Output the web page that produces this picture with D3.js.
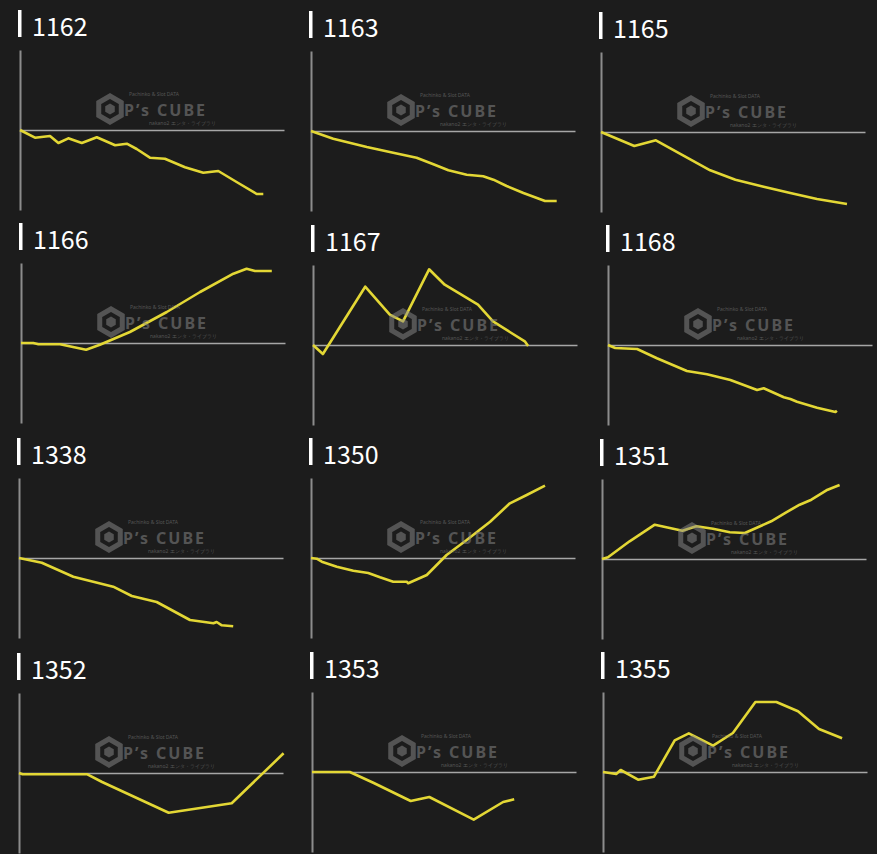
<!DOCTYPE html>
<html>
<head>
<meta charset="utf-8">
<script src="https://cdn.jsdelivr.net/npm/d3@7"></script>
<style>
  body { margin: 0; background: #1c1c1c; }
  svg { display: block; }
  .title { fill: #ffffff; font-family: "Noto Sans CJK JP", "Noto Sans", sans-serif; font-size: 25px; }
  .axis path { stroke: #8c8c8c; stroke-width: 2; }
  .zero path { stroke: #a6a6a6; stroke-width: 1.6; }
  .mark text { font-family: "Noto Sans", sans-serif; }
</style>
</head>
<body>
<script>
// machine numbers, one small chart each
var machines = ["1162", "1163", "1165", "1166", "1167", "1168", "1338", "1350", "1351", "1352", "1353", "1355"];

// games played (x) and coin difference (y) per machine
var games1162 = [0, 500, 1000, 1280, 1610, 2060, 2560, 3170, 3560, 3890, 4330, 4830, 5500, 6110, 6610, 7220, 7890, 8110];
var coins1162 = [0, -385, -300, -650, -415, -650, -365, -765, -685, -950, -1385, -1435, -1865, -2135, -2050, -2600, -3200, -3200];

var games1163 = [0, 740, 1860, 2740, 3520, 4080, 4580, 5190, 5740, 6080, 6520, 7080, 7800, 8190];
var coins1163 = [0, -385, -800, -1085, -1335, -1665, -1965, -2185, -2265, -2435, -2750, -3100, -3500, -3500];

var games1165 = [0, 1110, 1830, 2870, 3640, 4480, 5420, 6310, 7200, 8200];
var coins1165 = [0, -700, -415, -1285, -1915, -2385, -2735, -3050, -3350, -3600];

var games1166 = [0, 410, 580, 1300, 2170, 2630, 3630, 4860, 5970, 7080, 7520, 7800, 8360];
var coins1166 = [0, 0, -65, -65, -335, -85, 550, 1550, 2550, 3465, 3715, 3600, 3600];

var games1167 = [0, 330, 1740, 2560, 3000, 3870, 4390, 4890, 5500, 6000, 6560, 7060, 7170];
var coins1167 = [0, -450, 2915, 1515, 1185, 3785, 3015, 2565, 2015, 1185, 650, 185, -50];

var games1168 = [0, 240, 970, 1630, 2630, 3300, 4080, 4970, 5190, 5860, 6080, 6300, 6970, 7580, 7630];
var coins1168 = [0, -150, -200, -665, -1300, -1465, -1750, -2250, -2165, -2615, -2700, -2835, -3135, -3350, -3285];

var games1338 = [0, 760, 1810, 3140, 3760, 4590, 5700, 6480, 6590, 6760, 7140];
var coins1338 = [0, -235, -935, -1435, -1900, -2200, -3100, -3265, -3200, -3365, -3415];

var games1350 = [0, 190, 360, 860, 1410, 1910, 2300, 2740, 3190, 3240, 3860, 4520, 5190, 5970, 6630, 7190, 7800];
var coins1350 = [0, -35, -185, -435, -635, -750, -965, -1185, -1185, -1265, -850, 150, 900, 1815, 2735, 3150, 3615];

var games1351 = [0, 200, 920, 1760, 2260, 2680, 3140, 3700, 4260, 4760, 5140, 5640, 6140, 6590, 6980, 7480, 7920];
var coins1351 = [0, 85, 885, 1715, 1550, 1415, 1635, 1515, 1335, 1300, 1550, 1885, 2335, 2715, 2965, 3435, 3700];

var games1352 = [0, 120, 2280, 2770, 4990, 7090, 8820];
var coins1352 = [0, -65, -65, -450, -1985, -1515, 985];

var games1353 = [0, 1260, 2060, 3290, 3910, 5390, 6370, 6740];
var coins1353 = [0, 0, -550, -1450, -1250, -2385, -1500, -1365];

var games1355 = [0, 440, 590, 1170, 1700, 2390, 2860, 3670, 4330, 5080, 5780, 6500, 7200, 7970];
var coins1355 = [0, -100, 100, -385, -235, 1585, 1935, 1315, 1950, 3500, 3500, 3035, 2150, 1685];

var gamesList = [games1162, games1163, games1165, games1166, games1167, games1168, games1338, games1350, games1351, games1352, games1353, games1355];
var coinsList = [coins1162, coins1163, coins1165, coins1166, coins1167, coins1168, coins1338, coins1350, coins1351, coins1352, coins1353, coins1355];

window.onload = function(){
    var w = 877, h = 854;

    // where each panel's axis sits (axis x, zero line y), the grid is a bit uneven in the source
    var panelPos = [
        [20, 130], [311, 131], [601, 132],
        [21, 343], [313, 345], [608, 345],
        [19, 558], [311, 558], [602, 559],
        [19, 773], [312, 772], [603, 772]
    ];

    var svg = d3.select("body").append("svg")
        .attr("width", w)
        .attr("height", h);

    var x = d3.scaleLinear().domain([0, 8800]).range([0, 264]);  // games
    var y = d3.scaleLinear().domain([-4000, 4000]).range([160, 0]);  // coin difference

    var line = d3.line()
        .x(function(d){ return x(d[0]); })
        .y(function(d){ return y(d[1]); });

    machines.forEach(function(name, i){
        var pos = panelPos[i];
        var g = svg.append("g")
            .attr("class", "panel")
            .attr("transform", "translate(" + pos[0] + "," + (pos[1] - 80) + ")");

        // title with the white bar in front
        g.append("rect")
            .attr("x", -2)
            .attr("y", -40)
            .attr("width", 3.5)
            .attr("height", 27)
            .style("fill", "#ffffff");
        g.append("text")
            .attr("class", "title")
            .attr("x", 12)
            .attr("y", -14)
            .text(name);

        // vertical axis, no ticks
        g.append("g")
            .attr("class", "axis")
            .call(d3.axisLeft(y).tickValues([]).tickSizeOuter(0));

        // zero line
        g.append("g")
            .attr("class", "zero")
            .attr("transform", "translate(0," + y(0) + ")")
            .call(d3.axisBottom(x).tickValues([]).tickSizeOuter(0));

        var pts = d3.zip(gamesList[i], coinsList[i]);
        g.append("path")
            .datum(pts)
            .attr("d", line)
            .style("fill", "none")
            .style("stroke", "#e3d735")
            .style("stroke-width", 2.6)
            .style("stroke-linejoin", "round");

        // watermark on top, half transparent
        var m = g.append("g")
            .attr("class", "mark")
            .attr("transform", "translate(90," + (y(0) - 21) + ")")
            .style("opacity", 0.5);
        var hex = d3.range(6).map(function(k){
            var a = Math.PI / 3 * k - Math.PI / 2;
            return [13 * Math.cos(a), 13 * Math.sin(a)];
        });
        m.append("path")
            .attr("d", "M" + hex.join("L") + "Z")
            .style("fill", "none")
            .style("stroke", "#8c8c8c")
            .style("stroke-width", 5);
        var cube = d3.range(6).map(function(k){
            var a = Math.PI / 3 * k - Math.PI / 2;
            return [5.5 * Math.cos(a), 5.5 * Math.sin(a)];
        });
        m.append("path")
            .attr("d", "M" + cube.join("L") + "Z")
            .style("fill", "#8c8c8c");
        m.append("text")
            .attr("x", 14)
            .attr("y", 7)
            .attr("textLength", 81)
            .style("font-size", "16px")
            .style("font-weight", "bold")
            .style("fill", "#8c8c8c")
            .text("P\u2019s CUBE");
        m.append("text")
            .attr("x", 19)
            .attr("y", -13)
            .style("font-size", "5px")
            .style("fill", "#8c8c8c")
            .text("Pachinko & Slot DATA");
        m.append("text")
            .attr("x", 39)
            .attr("y", 16)
            .style("font-size", "5px")
            .style("fill", "#8c8c8c")
            .text("nakano2 エンタ・ライブラリ");
    });
};
</script>
</body>
</html>
